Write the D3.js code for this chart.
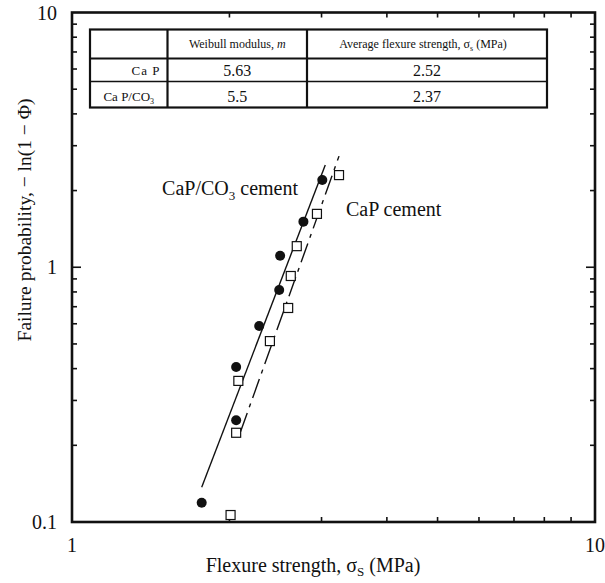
<!DOCTYPE html>
<html>
<head>
<meta charset="utf-8">
<script src="https://cdn.jsdelivr.net/npm/d3@7"></script>
<style>
  html, body { margin: 0; padding: 0; background: #fff; }
  svg text { font-family: "Liberation Serif", "DejaVu Serif", serif; fill: #111; }
</style>
</head>
<body>
<svg id="chart" width="605" height="583"></svg>
<script>
// CaP/CO3 cement (filled circles)
const co3Strength = [1.77, 2.06, 2.06, 2.28, 2.49, 2.50, 2.77, 3.01];
const co3Prob     = [0.119, 0.251, 0.406, 0.588, 0.814, 1.11, 1.51, 2.20];
// CaP cement (open squares)
const capStrength = [2.01, 2.06, 2.08, 2.39, 2.59, 2.62, 2.69, 2.94, 3.24];
const capProb     = [0.1065, 0.224, 0.358, 0.513, 0.692, 0.924, 1.21, 1.62, 2.30];
// fitted lines, end points
const co3Fit = [[1.77, 0.137], [3.05, 2.52]];
const capFit = [[2.10, 0.226], [3.24, 2.73]];

// table
const tableHead = ["Weibull modulus, ", "Average flexure strength, "];
const tableRows = ["CaP", "CaP/CO3"];
const modulus   = ["5.63", "5.5"];
const avgStr    = ["2.52", "2.37"];

const xTicks = [1, 10];
const yTicks = [0.1, 1, 10];

const svg = d3.select("#chart");
const m = {left: 72, right: 595, top: 12.5, bottom: 522};

const x = d3.scaleLog().domain([1, 10]).range([m.left, m.right]);
const y = d3.scaleLog().domain([0.1, 10]).range([m.bottom, m.top]);

const minorX = [2,3,4,5,6,7,8,9];
const minorY = [0.2,0.3,0.4,0.5,0.6,0.7,0.8,0.9,2,3,4,5,6,7,8,9];

/* ---------- frame + ticks ---------- */
const g = svg.append("g");
const tk = g.append("g").attr("stroke", "#111").attr("stroke-width", 1.6);

minorX.forEach(v => {
  tk.append("line").attr("x1", x(v)).attr("x2", x(v)).attr("y1", m.bottom).attr("y2", m.bottom - 5);
  tk.append("line").attr("x1", x(v)).attr("x2", x(v)).attr("y1", m.top).attr("y2", m.top + 5);
});
minorY.forEach(v => {
  tk.append("line").attr("y1", y(v)).attr("y2", y(v)).attr("x1", m.left).attr("x2", m.left + 5);
  tk.append("line").attr("y1", y(v)).attr("y2", y(v)).attr("x1", m.right).attr("x2", m.right - 5);
});
// major tick at y=1
tk.append("line").attr("y1", y(1)).attr("y2", y(1)).attr("x1", m.left).attr("x2", m.left + 9);
tk.append("line").attr("y1", y(1)).attr("y2", y(1)).attr("x1", m.right).attr("x2", m.right - 9);

g.append("rect")
  .attr("x", m.left).attr("y", m.top)
  .attr("width", m.right - m.left).attr("height", m.bottom - m.top)
  .attr("fill", "none").attr("stroke", "#111").attr("stroke-width", 2.6);

// tick labels
g.selectAll(".xl").data(xTicks).enter().append("text")
  .attr("x", d => x(d)).attr("y", 552)
  .attr("text-anchor", "middle").attr("font-size", 20)
  .text(d => d);
g.selectAll(".yl").data(yTicks).enter().append("text")
  .attr("x", 57).attr("y", d => y(d) + 7)
  .attr("text-anchor", "end").attr("font-size", 20)
  .text(d => d);

// axis titles
const xt = g.append("text").attr("x", 313).attr("y", 572)
  .attr("text-anchor", "middle").attr("font-size", 20);
xt.append("tspan").text("Flexure strength, σ");
xt.append("tspan").attr("font-size", 13).attr("dy", 4).text("S");
xt.append("tspan").attr("dy", -4).text(" (MPa)");

g.append("text")
  .attr("transform", "translate(31,220) rotate(-90)")
  .attr("text-anchor", "middle").attr("font-size", 19.5)
  .text("Failure probability, − ln(1 − Φ)");

/* ---------- fit lines ---------- */
const line = d3.line().x(d => x(d[0])).y(d => y(d[1]));
g.append("path").datum(co3Fit).attr("d", line)
  .attr("fill", "none").attr("stroke", "#111").attr("stroke-width", 1.4);
g.append("path").datum(capFit).attr("d", line)
  .attr("fill", "none").attr("stroke", "#111").attr("stroke-width", 1.4)
  .attr("stroke-dasharray", "20,6,4,6");

/* ---------- points ---------- */
g.selectAll(".sq").data(capStrength.map((v, i) => [v, capProb[i]])).enter()
  .append("rect")
  .attr("x", d => x(d[0]) - 4.5).attr("y", d => y(d[1]) - 4.5)
  .attr("width", 9).attr("height", 9)
  .attr("fill", "#fff").attr("stroke", "#111").attr("stroke-width", 1.2);

g.selectAll(".ci").data(co3Strength.map((v, i) => [v, co3Prob[i]])).enter()
  .append("circle")
  .attr("cx", d => x(d[0])).attr("cy", d => y(d[1])).attr("r", 5)
  .attr("fill", "#111");

/* ---------- annotations ---------- */
const a1 = g.append("text").attr("x", 298).attr("y", 195)
  .attr("text-anchor", "end").attr("font-size", 20);
a1.append("tspan").text("CaP/CO");
a1.append("tspan").attr("font-size", 13).attr("dy", 5).text("3");
a1.append("tspan").attr("dy", -5).text(" cement");

g.append("text").attr("x", 346).attr("y", 216)
  .attr("font-size", 20).text("CaP cement");

/* ---------- table ---------- */
const tb = {x0: 90, x1: 167.5, x2: 307, x3: 547, y0: 29.5, y1: 58.5, y2: 81.5, y3: 107.5};
const tg = g.append("g");
tg.append("rect").attr("x", tb.x0).attr("y", tb.y0)
  .attr("width", tb.x3 - tb.x0).attr("height", tb.y3 - tb.y0)
  .attr("fill", "#fff").attr("stroke", "#111").attr("stroke-width", 2.2);
[tb.x1, tb.x2].forEach(v => tg.append("line")
  .attr("x1", v).attr("x2", v).attr("y1", tb.y0).attr("y2", tb.y3)
  .attr("stroke", "#111").attr("stroke-width", 2.2));
tg.append("line").attr("x1", tb.x0).attr("x2", tb.x3).attr("y1", tb.y1).attr("y2", tb.y1)
  .attr("stroke", "#111").attr("stroke-width", 2);
tg.append("line").attr("x1", tb.x0).attr("x2", tb.x3).attr("y1", tb.y2).attr("y2", tb.y2)
  .attr("stroke", "#111").attr("stroke-width", 1.4);

const h1 = tg.append("text").attr("x", (tb.x1 + tb.x2) / 2).attr("y", 48)
  .attr("text-anchor", "middle").attr("font-size", 12).attr("fill", "#333");
h1.append("tspan").text(tableHead[0]);
h1.append("tspan").attr("font-style", "italic").text("m");

const h2 = tg.append("text").attr("x", (tb.x2 + tb.x3) / 2 - 4).attr("y", 48)
  .attr("text-anchor", "middle").attr("font-size", 12).attr("fill", "#333");
h2.append("tspan").text(tableHead[1] + "σ");
h2.append("tspan").attr("font-size", 8).attr("dy", 3).text("s");
h2.append("tspan").attr("dy", -3).text("  (MPa)");

const rowY = [tb.y2 - 7, tb.y3 - 7];
tableRows.forEach((r, i) => {
  const t = tg.append("text").attr("y", rowY[i]).attr("font-size", 13).attr("fill", "#333");
  if (i === 0) {
    t.attr("x", tb.x1 - 7).attr("text-anchor", "end").attr("letter-spacing", 1).text("Ca P");
  } else {
    t.attr("x", (tb.x0 + tb.x1) / 2).attr("text-anchor", "middle");
    t.append("tspan").text("Ca P/CO");
    t.append("tspan").attr("font-size", 8).attr("dy", 3).text("3");
  }
  tg.append("text").attr("x", (tb.x1 + tb.x2) / 2).attr("y", rowY[i] + 1)
    .attr("text-anchor", "middle").attr("font-size", 16).text(modulus[i]);
  tg.append("text").attr("x", (tb.x2 + tb.x3) / 2).attr("y", rowY[i] + 1)
    .attr("text-anchor", "middle").attr("font-size", 16).text(avgStr[i]);
});
</script>
</body>
</html>
